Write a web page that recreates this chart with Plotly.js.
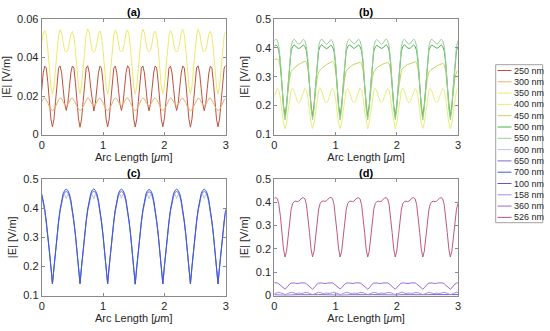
<!DOCTYPE html>
<html><head><meta charset="utf-8">
<script src="https://cdn.plot.ly/plotly-3.0.1.min.js"></script>
<style>html,body{margin:0;padding:0;background:#fff}#plot{width:550px;height:331px}</style>
</head><body><div id="plot"></div>
<script>
const arcLength = [
0,0.025,0.05,0.075,0.1,0.125,0.15,0.175,0.2,0.225,
0.25,0.275,0.3,0.325,0.35,0.375,0.4,0.425,0.45,0.475,
0.5,0.525,0.55,0.575,0.6,0.625,0.65,0.675,0.7,0.725,
0.75,0.775,0.8,0.825,0.85,0.875,0.9,0.925,0.95,0.975,
1,1.025,1.05,1.075,1.1,1.125,1.15,1.175,1.2,1.225,
1.25,1.275,1.3,1.325,1.35,1.375,1.4,1.425,1.45,1.475,
1.5,1.525,1.55,1.575,1.6,1.625,1.65,1.675,1.7,1.725,
1.75,1.775,1.8,1.825,1.85,1.875,1.9,1.925,1.95,1.975,
2,2.025,2.05,2.075,2.1,2.125,2.15,2.175,2.2,2.225,
2.25,2.275,2.3,2.325,2.35,2.375,2.4,2.425,2.45,2.475,
2.5,2.525,2.55,2.575,2.6,2.625,2.65,2.675,2.7,2.725,
2.75,2.775,2.8,2.825,2.85,2.875,2.9,2.925,2.95,2.975,
3];

const legendNames = ['250 nm','300 nm','350 nm','400 nm','450 nm','500 nm','550 nm','600 nm','650 nm','700 nm','100 nm','158 nm','360 nm','526 nm'];
const lineColors = ['#c0503c','#eeb070','#f0e868','#e4f07a','#c4d45a','#46b446','#9ccc9c','#b4c8f4','#7c6cd4','#3c5ada','#6a4ed6','#a88ce4','#9a6ad0','#c0587c'];
const panelOf = ['a','a','a','b','b','b','b','c','c','c','d','d','d','d'];
const panelLabels = ['(a)','(b)','(c)','(d)'];

const e250 = [
0.023,0.032,0.0355,0.0345,0.027,0.017,0.008,
0.004,0.008,0.017,0.027,0.0345,0.0356,0.032,0.024,0.016,0.0125,0.016,0.024,0.032,0.0356,0.0345,0.027,0.017,0.008,
0.0038,0.008,0.017,0.027,0.0345,0.0357,0.032,0.024,0.0162,0.0122,0.0162,0.024,0.032,0.0355,0.0344,0.027,0.017,0.008,
0.004,0.008,0.017,0.027,0.0344,0.0355,0.032,0.024,0.016,0.0125,0.016,0.024,0.0322,0.0357,0.0345,0.027,0.017,0.0082,
0.0039,0.008,0.017,0.027,0.0345,0.0356,0.032,0.024,0.016,0.0123,0.016,0.024,0.032,0.0356,0.0346,0.027,0.017,0.008,
0.004,0.0082,0.017,0.027,0.0345,0.0355,0.032,0.024,0.016,0.0125,0.016,0.0242,0.032,0.0356,0.0345,0.027,0.017,0.008,
0.0038,0.008,0.017,0.027,0.0346,0.0357,0.032,0.024,0.016,0.0124,0.016,0.024,0.032,0.0355,0.0344,0.027,0.017,0.008,
0.004,0.008,0.017,0.027,0.0345,0.0358];

const e300 = [
0.017,0.0185,0.019,0.018,0.0165,0.0145,0.013,
0.0125,0.013,0.0145,0.0165,0.018,0.019,0.0185,0.017,0.0155,0.015,0.0155,0.017,0.0185,0.019,0.018,0.0165,0.0145,0.013,
0.0123,0.013,0.0145,0.0166,0.018,0.0191,0.0185,0.017,0.0156,0.015,0.0155,0.017,0.0184,0.019,0.018,0.0165,0.0145,0.013,
0.0125,0.0131,0.0145,0.0165,0.0181,0.019,0.0186,0.017,0.0155,0.0151,0.0155,0.0171,0.0185,0.0191,0.018,0.0165,0.0144,0.013,
0.0124,0.013,0.0146,0.0165,0.018,0.019,0.0185,0.0169,0.0155,0.015,0.0156,0.017,0.0185,0.019,0.0181,0.0166,0.0145,0.013,
0.0125,0.013,0.0145,0.0165,0.018,0.0191,0.0185,0.017,0.0155,0.015,0.0155,0.017,0.0185,0.019,0.018,0.0165,0.0145,0.0131,
0.0124,0.013,0.0145,0.0165,0.0181,0.019,0.0185,0.017,0.0155,0.0151,0.0155,0.017,0.0186,0.019,0.018,0.0165,0.0145,0.013,
0.0125,0.013,0.0145,0.0165,0.018,0.019];

const e350 = [
0.0475,0.0525,0.054,0.0515,0.044,0.034,0.025,
0.021,0.025,0.034,0.044,0.0515,0.0545,0.0528,0.0476,0.0437,0.0428,0.0438,0.0476,0.0522,0.0535,0.051,0.044,0.034,0.025,
0.0212,0.0252,0.034,0.044,0.0518,0.0548,0.053,0.0477,0.0436,0.0427,0.0437,0.0475,0.0525,0.0538,0.0512,0.0438,0.034,0.025,
0.0208,0.025,0.0338,0.0442,0.0515,0.0542,0.0526,0.0476,0.0438,0.0429,0.0438,0.0477,0.0528,0.0543,0.0516,0.0441,0.034,0.0251,
0.021,0.025,0.034,0.044,0.0517,0.0547,0.0529,0.0476,0.0437,0.0428,0.0437,0.0475,0.0524,0.0537,0.0512,0.044,0.0341,0.025,
0.0211,0.0251,0.034,0.0441,0.0514,0.0541,0.0525,0.0475,0.0437,0.0428,0.0438,0.0477,0.0527,0.0546,0.0518,0.0441,0.034,0.025,
0.0209,0.025,0.034,0.044,0.0516,0.0546,0.0528,0.0476,0.0437,0.0428,0.0437,0.0476,0.0523,0.0536,0.0511,0.044,0.034,0.025,
0.021,0.025,0.034,0.044,0.0514,0.0535];

const e400 = [
0.232,0.25,0.26,0.253,0.225,0.18,0.14,
0.12,0.14,0.18,0.225,0.253,0.26,0.25,0.232,0.215,0.21,0.215,0.232,0.25,0.26,0.253,0.225,0.18,0.14,
0.121,0.141,0.18,0.226,0.254,0.261,0.25,0.231,0.215,0.209,0.215,0.232,0.251,0.26,0.252,0.225,0.18,0.14,
0.12,0.14,0.181,0.225,0.253,0.259,0.249,0.232,0.216,0.21,0.215,0.231,0.25,0.261,0.254,0.226,0.18,0.14,
0.119,0.14,0.18,0.225,0.252,0.26,0.25,0.232,0.215,0.21,0.216,0.232,0.25,0.26,0.253,0.225,0.181,0.141,
0.12,0.14,0.18,0.224,0.253,0.261,0.251,0.233,0.215,0.21,0.215,0.232,0.249,0.259,0.252,0.225,0.18,0.14,
0.121,0.14,0.18,0.225,0.253,0.26,0.25,0.232,0.215,0.211,0.215,0.232,0.25,0.26,0.253,0.225,0.18,0.14,
0.12,0.14,0.18,0.225,0.253,0.26];

const e450 = [
0.36,0.362,0.362,0.356,0.33,0.275,0.2,
0.165,0.2,0.25,0.295,0.318,0.325,0.33,0.335,0.34,0.343,0.346,0.349,0.352,0.354,0.35,0.325,0.27,0.2,
0.166,0.2,0.25,0.294,0.317,0.324,0.329,0.334,0.339,0.342,0.345,0.348,0.351,0.353,0.349,0.324,0.27,0.2,
0.165,0.2,0.25,0.296,0.32,0.327,0.332,0.336,0.34,0.343,0.345,0.347,0.349,0.35,0.346,0.322,0.268,0.2,
0.165,0.2,0.25,0.295,0.318,0.326,0.331,0.335,0.339,0.342,0.344,0.346,0.348,0.349,0.345,0.322,0.268,0.2,
0.166,0.2,0.251,0.297,0.322,0.33,0.335,0.339,0.342,0.344,0.346,0.348,0.35,0.352,0.348,0.324,0.27,0.2,
0.165,0.2,0.25,0.295,0.317,0.323,0.327,0.331,0.334,0.337,0.34,0.342,0.344,0.346,0.342,0.32,0.267,0.2,
0.165,0.2,0.25,0.294,0.316,0.322];

const e500 = [
0.406,0.41,0.405,0.39,0.345,0.27,0.2,
0.16,0.2,0.27,0.345,0.39,0.405,0.41,0.406,0.4,0.398,0.4,0.406,0.41,0.405,0.39,0.345,0.27,0.2,
0.161,0.2,0.271,0.346,0.391,0.406,0.411,0.406,0.4,0.397,0.4,0.405,0.409,0.404,0.389,0.345,0.27,0.2,
0.16,0.2,0.27,0.345,0.39,0.405,0.41,0.407,0.401,0.398,0.401,0.406,0.41,0.405,0.39,0.346,0.27,0.2,
0.16,0.201,0.27,0.344,0.389,0.404,0.409,0.405,0.4,0.398,0.4,0.406,0.411,0.406,0.391,0.345,0.27,0.2,
0.161,0.2,0.27,0.345,0.39,0.405,0.41,0.406,0.4,0.398,0.4,0.405,0.41,0.405,0.39,0.345,0.27,0.2,
0.16,0.2,0.27,0.345,0.391,0.406,0.41,0.406,0.401,0.399,0.4,0.406,0.41,0.405,0.39,0.345,0.27,0.2,
0.16,0.2,0.27,0.345,0.39,0.405];

const e550 = [
0.424,0.43,0.425,0.405,0.355,0.27,0.19,
0.15,0.19,0.27,0.355,0.405,0.425,0.43,0.424,0.416,0.413,0.416,0.424,0.43,0.425,0.405,0.355,0.27,0.19,
0.151,0.19,0.271,0.356,0.406,0.426,0.431,0.424,0.416,0.412,0.416,0.423,0.429,0.424,0.404,0.355,0.27,0.19,
0.15,0.19,0.27,0.355,0.405,0.425,0.43,0.425,0.417,0.413,0.417,0.424,0.43,0.425,0.405,0.356,0.27,0.19,
0.15,0.191,0.27,0.354,0.404,0.424,0.429,0.423,0.416,0.413,0.416,0.424,0.431,0.426,0.406,0.355,0.27,0.19,
0.151,0.19,0.27,0.355,0.405,0.425,0.43,0.424,0.416,0.413,0.416,0.424,0.43,0.425,0.405,0.355,0.27,0.19,
0.15,0.19,0.27,0.355,0.406,0.426,0.43,0.424,0.417,0.414,0.416,0.424,0.43,0.425,0.405,0.355,0.27,0.19,
0.15,0.19,0.27,0.355,0.405,0.425];

const e600 = [
0.44,0.418,0.388,0.349,0.304,0.253,0.197,
0.14,0.197,0.253,0.304,0.349,0.388,0.418,0.44,0.447,0.433,0.447,0.44,0.418,0.388,0.349,0.304,0.253,0.197,
0.141,0.198,0.254,0.305,0.35,0.389,0.419,0.44,0.446,0.432,0.446,0.44,0.418,0.387,0.348,0.303,0.253,0.197,
0.14,0.197,0.253,0.304,0.349,0.388,0.418,0.441,0.448,0.434,0.447,0.44,0.418,0.388,0.349,0.304,0.253,0.197,
0.139,0.196,0.252,0.303,0.348,0.387,0.417,0.439,0.446,0.432,0.446,0.44,0.419,0.389,0.35,0.305,0.254,0.198,
0.14,0.197,0.253,0.304,0.349,0.388,0.418,0.44,0.447,0.433,0.447,0.441,0.418,0.388,0.349,0.304,0.253,0.197,
0.14,0.197,0.253,0.304,0.349,0.388,0.418,0.44,0.447,0.433,0.447,0.44,0.418,0.388,0.349,0.304,0.253,0.197,
0.14,0.197,0.253,0.304,0.349,0.388];

const e650 = [
0.443,0.423,0.392,0.352,0.307,0.255,0.198,
0.14,0.198,0.255,0.307,0.352,0.392,0.423,0.443,0.454,0.457,0.454,0.443,0.423,0.392,0.352,0.307,0.255,0.198,
0.141,0.199,0.256,0.308,0.353,0.393,0.424,0.444,0.455,0.458,0.454,0.443,0.422,0.391,0.351,0.306,0.254,0.198,
0.14,0.198,0.255,0.307,0.352,0.392,0.423,0.443,0.454,0.457,0.454,0.443,0.423,0.392,0.352,0.307,0.255,0.198,
0.139,0.197,0.254,0.306,0.351,0.391,0.422,0.442,0.453,0.456,0.454,0.444,0.424,0.393,0.353,0.308,0.256,0.199,
0.14,0.198,0.255,0.307,0.352,0.392,0.423,0.443,0.454,0.457,0.454,0.443,0.423,0.392,0.352,0.307,0.255,0.198,
0.14,0.198,0.255,0.307,0.352,0.392,0.423,0.443,0.454,0.457,0.454,0.443,0.423,0.392,0.352,0.307,0.255,0.198,
0.14,0.198,0.255,0.307,0.352,0.392];

const e700 = [
0.45,0.428,0.396,0.356,0.31,0.258,0.2,
0.14,0.2,0.258,0.31,0.356,0.396,0.428,0.45,0.461,0.465,0.461,0.45,0.428,0.396,0.356,0.31,0.258,0.2,
0.141,0.201,0.259,0.311,0.357,0.397,0.429,0.451,0.462,0.466,0.461,0.449,0.427,0.395,0.355,0.309,0.257,0.2,
0.14,0.2,0.258,0.31,0.356,0.396,0.428,0.45,0.461,0.465,0.461,0.45,0.428,0.396,0.356,0.31,0.258,0.2,
0.139,0.199,0.257,0.309,0.355,0.395,0.427,0.449,0.46,0.464,0.461,0.451,0.429,0.397,0.357,0.311,0.259,0.201,
0.14,0.2,0.258,0.31,0.356,0.396,0.428,0.45,0.461,0.465,0.461,0.45,0.428,0.396,0.356,0.31,0.258,0.2,
0.14,0.2,0.258,0.31,0.356,0.396,0.428,0.45,0.461,0.465,0.461,0.45,0.428,0.396,0.356,0.31,0.258,0.2,
0.14,0.2,0.258,0.31,0.356,0.396];

const e100 = [
0.0028,0.003,0.0035,0.0035,0.003,0.002,0.0015,
0.001,0.0015,0.002,0.003,0.0035,0.0035,0.003,0.0028,0.003,0.0032,0.003,0.0028,0.003,0.0035,0.0035,0.003,0.002,0.0015,
0.001,0.0015,0.002,0.003,0.0035,0.0036,0.003,0.0028,0.003,0.0032,0.003,0.0028,0.003,0.0035,0.0034,0.003,0.002,0.0015,
0.001,0.0015,0.002,0.003,0.0035,0.0035,0.003,0.0028,0.003,0.0032,0.003,0.0028,0.003,0.0035,0.0035,0.003,0.002,0.0015,
0.001,0.0015,0.002,0.003,0.0034,0.0035,0.003,0.0028,0.003,0.0031,0.003,0.0028,0.003,0.0036,0.0035,0.003,0.002,0.0015,
0.001,0.0015,0.002,0.003,0.0035,0.0035,0.003,0.0028,0.003,0.0032,0.003,0.0028,0.003,0.0035,0.0035,0.003,0.002,0.0015,
0.001,0.0015,0.002,0.003,0.0035,0.0035,0.003,0.0028,0.003,0.0032,0.003,0.0028,0.003,0.0035,0.0035,0.003,0.002,0.0015,
0.001,0.0015,0.002,0.003,0.0035,0.0035];

const e158 = [
0.008,0.01,0.013,0.014,0.012,0.009,0.006,
0.004,0.006,0.009,0.012,0.014,0.013,0.01,0.008,0.009,0.011,0.009,0.008,0.01,0.013,0.014,0.012,0.009,0.006,
0.004,0.006,0.009,0.012,0.014,0.013,0.01,0.008,0.009,0.011,0.009,0.008,0.01,0.013,0.0142,0.012,0.009,0.006,
0.0042,0.006,0.009,0.012,0.0138,0.013,0.01,0.008,0.009,0.011,0.009,0.008,0.01,0.013,0.014,0.012,0.009,0.006,
0.004,0.006,0.009,0.012,0.014,0.013,0.01,0.008,0.0092,0.011,0.009,0.008,0.01,0.013,0.014,0.012,0.009,0.006,
0.004,0.006,0.009,0.012,0.014,0.0132,0.01,0.008,0.009,0.011,0.009,0.008,0.01,0.013,0.014,0.012,0.009,0.006,
0.004,0.006,0.009,0.012,0.014,0.013,0.01,0.008,0.009,0.011,0.009,0.008,0.01,0.013,0.014,0.012,0.009,0.006,
0.004,0.006,0.009,0.012,0.014,0.013];

const e360 = [
0.055,0.055,0.054,0.05,0.044,0.037,0.031,
0.027,0.033,0.042,0.049,0.053,0.055,0.054,0.052,0.051,0.052,0.054,0.055,0.055,0.054,0.05,0.044,0.037,0.031,
0.027,0.033,0.042,0.049,0.053,0.055,0.054,0.052,0.051,0.052,0.054,0.055,0.055,0.054,0.05,0.044,0.037,0.031,
0.028,0.033,0.042,0.049,0.053,0.055,0.054,0.052,0.051,0.052,0.054,0.055,0.055,0.054,0.05,0.044,0.037,0.031,
0.027,0.033,0.042,0.049,0.053,0.055,0.054,0.052,0.051,0.052,0.054,0.055,0.055,0.054,0.05,0.044,0.037,0.031,
0.027,0.033,0.042,0.049,0.053,0.055,0.054,0.052,0.051,0.052,0.054,0.055,0.055,0.054,0.05,0.044,0.037,0.031,
0.027,0.033,0.042,0.049,0.053,0.055,0.054,0.052,0.051,0.052,0.054,0.055,0.055,0.054,0.05,0.044,0.037,0.031,
0.027,0.033,0.042,0.049,0.053,0.055];

const e526 = [
0.418,0.42,0.415,0.39,0.34,0.27,0.2,
0.165,0.19,0.25,0.32,0.37,0.395,0.403,0.405,0.403,0.405,0.412,0.418,0.42,0.415,0.39,0.34,0.27,0.2,
0.166,0.191,0.251,0.321,0.371,0.396,0.404,0.406,0.404,0.406,0.413,0.419,0.421,0.416,0.391,0.341,0.27,0.2,
0.165,0.19,0.25,0.32,0.37,0.395,0.403,0.405,0.403,0.405,0.412,0.418,0.42,0.415,0.39,0.34,0.27,0.2,
0.165,0.19,0.25,0.32,0.37,0.395,0.403,0.405,0.403,0.405,0.412,0.418,0.42,0.415,0.39,0.34,0.27,0.2,
0.165,0.19,0.25,0.32,0.37,0.395,0.403,0.405,0.403,0.405,0.412,0.418,0.42,0.415,0.39,0.34,0.27,0.2,
0.165,0.19,0.25,0.32,0.37,0.395,0.403,0.405,0.403,0.405,0.412,0.418,0.42,0.415,0.39,0.34,0.27,0.2,
0.165,0.19,0.25,0.32,0.37,0.395];

const series = [e250,e300,e350,e400,e450,e500,e550,e600,e650,e700,e100,e158,e360,e526];

const W = 550, H = 331;
const FONT = 'Liberation Sans, Arial, Helvetica, sans-serif';
const axisRef = {a:['x','y'], b:['x2','y2'], c:['x3','y3'], d:['x4','y4']};

const traces = series.map((ys, k) => ({
  type:'scatter', mode:'lines', x: arcLength, y: ys, name: legendNames[k],
  xaxis: axisRef[panelOf[k]][0], yaxis: axisRef[panelOf[k]][1],
  line:{color: lineColors[k], width:1}, showlegend:false, hoverinfo:'x+y+name'
}));

const boxCol = '#8a8a8a';
function xAx(dom, anchor){
  return {domain: dom, anchor: anchor, range:[0,3], dtick:1, tick0:0,
    showgrid:false, zeroline:false, showline:true, linecolor:boxCol, linewidth:1,
    mirror:'ticks', ticks:'inside', ticklen:3, tickcolor:boxCol,
    tickfont:{size:11, color:'#262626'},
    title:{text:'Arc Length [<i>μ</i>m]', font:{size:11, color:'#262626'}, standoff:2}};
}
function yAx(dom, anchor, range, dtick){
  return {domain: dom, anchor: anchor, range: range, dtick: dtick, tick0:0,
    showgrid:false, zeroline:false, showline:true, linecolor:boxCol, linewidth:1,
    mirror:'ticks', ticks:'inside', ticklen:3, tickcolor:boxCol,
    tickfont:{size:11, color:'#262626'},
    title:{text:'|E| [V/m]', font:{size:11, color:'#262626'}, standoff:4}};
}

const xL = [41.7/W, 225.7/W], xR = [274.3/W, 458/W];
const yT = [1-134.5/H, 1-19/H], yB = [1-295.5/H, 1-179/H];

const annotations = panelLabels.map((t, k) => {
  const xd = (k % 2 === 0) ? xL : xR;
  const ypix = k < 2 ? 12 : 172.5;
  return {text:'<b>'+t+'</b>', xref:'paper', yref:'paper', x:(xd[0]+xd[1])/2, y:1-ypix/H,
    showarrow:false, xanchor:'center', yanchor:'middle', font:{size:11, color:'#000'}};
});

const shapes = [];
const legX0 = 495.7, legX1 = 542.7, legY0 = 64.7, legY1 = 222.7;
shapes.push({type:'rect', xref:'paper', yref:'paper', x0:legX0/W, x1:legX1/W, y0:1-legY1/H, y1:1-legY0/H,
  line:{color:'#a0a0a0', width:1}, fillcolor:'#fff'});
legendNames.forEach((nm, k) => {
  const yc = 70.5 + k*11.3;
  shapes.push({type:'line', xref:'paper', yref:'paper', x0:497.5/W, x1:511.5/W, y0:1-yc/H, y1:1-yc/H,
    line:{color: lineColors[k], width:1}});
  annotations.push({text: nm, xref:'paper', yref:'paper', x:512.3/W, y:1-yc/H, xanchor:'left', yanchor:'middle',
    showarrow:false, font:{size:9, color:'#262626'}});
});

const layout = {
  width:W, height:H, margin:{l:0,r:0,t:0,b:0}, paper_bgcolor:'#fff', plot_bgcolor:'#fff',
  font:{family:FONT, color:'#262626'}, showlegend:false,
  xaxis: xAx(xL,'y'), yaxis: yAx(yT,'x',[0,0.06],0.02),
  xaxis2: xAx(xR,'y2'), yaxis2: yAx(yT,'x2',[0.1,0.5],0.1),
  xaxis3: xAx(xL,'y3'), yaxis3: yAx(yB,'x3',[0.1,0.5],0.1),
  xaxis4: xAx(xR,'y4'), yaxis4: yAx(yB,'x4',[0,0.5],0.1),
  annotations: annotations, shapes: shapes
};

Plotly.newPlot('plot', traces, layout, {displayModeBar:false, staticPlot:true});
</script>
</body></html>
